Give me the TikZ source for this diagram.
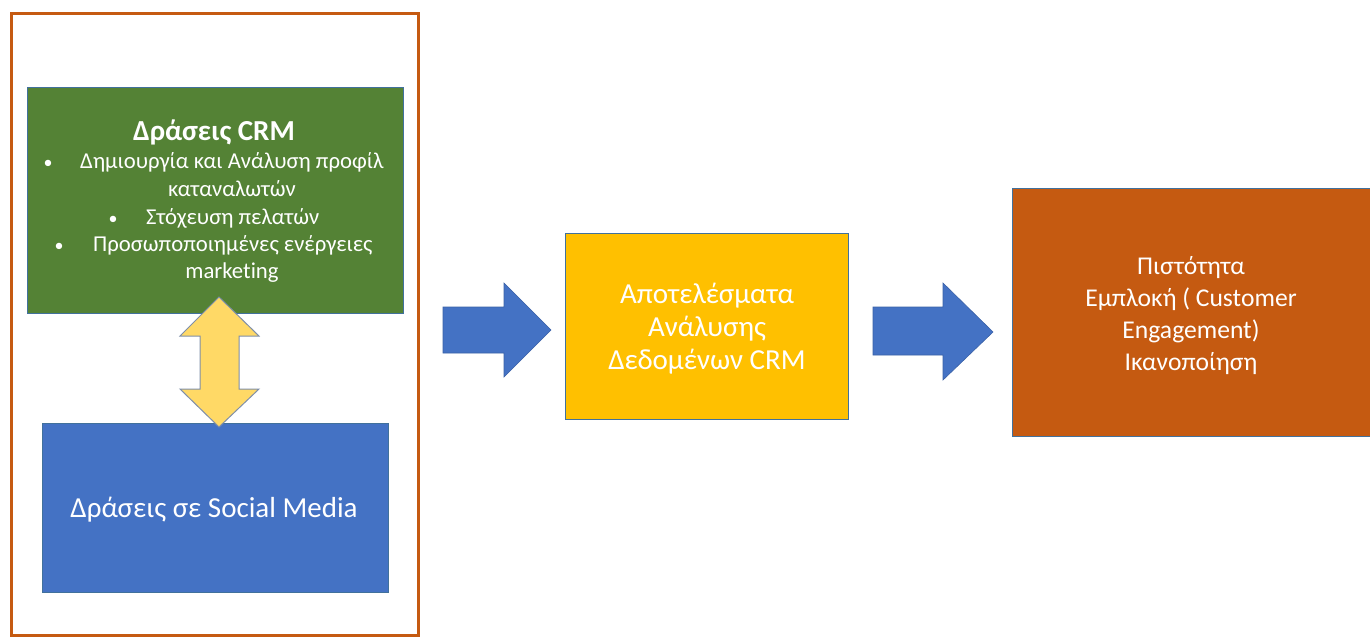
\documentclass[tikz,border=0pt]{standalone}
\usepackage{fontspec}
\setmainfont{Carlito}[Ligatures=NoCommon]
\definecolor{crmgreen}{HTML}{548235}
\definecolor{smblue}{HTML}{4472C4}
\definecolor{resyellow}{HTML}{FFC000}
\definecolor{outorange}{HTML}{C55A11}
\definecolor{framecol}{HTML}{C55A11}
\definecolor{edgeblue}{HTML}{41719C}
\definecolor{darrfill}{HTML}{FFD966}
\definecolor{darredge}{HTML}{7F8FA9}
\definecolor{arrblue}{HTML}{4472C4}
\tikzset{
  box/.style={draw=edgeblue, line width=1pt, inner sep=0pt, anchor=north west},
  wtext/.style={text=white, inner sep=0pt},
  bodyfont/.style={font=\fontsize{22.7}{27}\selectfont},
  bulletfont/.style={font=\fontsize{18}{22}\selectfont},
  blockarrow/.style={fill=arrblue, draw=arrblue!85!black, line width=0.6pt, line join=miter},
}
\begin{document}
\begin{tikzpicture}[x=1pt,y=-1pt]
\useasboundingbox (0,0) rectangle (1370,637);
\fill[white] (0,0) rectangle (1370,637);
% outer frame
\draw[framecol, line width=3pt] (11,13) rectangle (418,635);
% boxes
\node[box, fill=crmgreen, minimum width=376pt, minimum height=226pt] (crm) at (27,87) {};
\node[box, fill=smblue, minimum width=346pt, minimum height=169pt] (sm) at (42,423) {};
\node[box, fill=resyellow, minimum width=283pt, minimum height=186pt] (res) at (565,233) {};
\node[box, fill=outorange, minimum width=370pt, minimum height=248pt] (out) at (1012,188) {};
% double arrow
\filldraw[fill=darrfill, draw=darredge, line width=1pt, line join=miter]
  (219,297) -- (259,336) -- (239,336) -- (239,389) -- (259,389) -- (219,427)
  -- (180,389) -- (200,389) -- (200,336) -- (180,336) -- cycle;
% block arrows
\filldraw[blockarrow] (443,307) -- (504,307) -- (504,283) -- (551,330)
  -- (504,377) -- (504,353) -- (443,353) -- cycle;
\filldraw[blockarrow] (873,307) -- (943,307) -- (943,283) -- (993,332)
  -- (943,380) -- (943,355) -- (873,355) -- cycle;
% green box text
\node[wtext, anchor=base, font=\fontsize{29}{34}\selectfont\bfseries] (crmtitle) at (214,140) {Δράσεις CRM};
\node[wtext, anchor=base, bulletfont] (b1) at (48,168) {•};
\node[wtext, anchor=base west, bodyfont] (l1) at (80,168) {Δημιουργία και Ανάλυση προφίλ};
\node[wtext, anchor=base, bodyfont] (l2) at (232,196) {καταναλωτών};
\node[wtext, anchor=base, bulletfont] (b3) at (113,224) {•};
\node[wtext, anchor=base west, bodyfont] (l3) at (146,224) {Στόχευση πελατών};
\node[wtext, anchor=base, bulletfont] (b4) at (59,251) {•};
\node[wtext, anchor=base west, bodyfont] (l4) at (93,251) {Προσωποποιημένες ενέργειες};
\node[wtext, anchor=base, bodyfont] (l5) at (232,278) {marketing};
% blue box text
\node[wtext, anchor=base, font=\fontsize{29}{34}\selectfont] (smtext) at (214,517) {Δράσεις σε Social Media};
% yellow box text
\node[wtext, align=center, font=\fontsize{29}{33}\selectfont] (restext) at ([yshift=-2pt]res.center) {Αποτελέσματα\\Ανάλυσης\\Δεδομένων CRM};
% orange box text
\node[wtext, align=center, font=\fontsize{25.6}{32}\selectfont] (outtext) at (1191,316) {Πιστότητα\\Εμπλοκή ( Customer\\Engagement)\\Ικανοποίηση};
\end{tikzpicture}
\end{document}
